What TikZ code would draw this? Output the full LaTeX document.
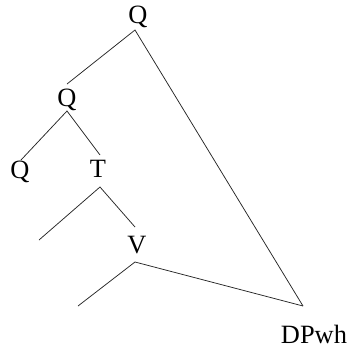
\documentclass[tikz,border=0pt]{standalone}
\usepackage{fontspec}
\setmainfont{Liberation Serif}
\begin{document}
\begin{tikzpicture}[x=1bp,y=-1bp,
  lab/.style={anchor=base,inner sep=0pt,font=\fontsize{26.5}{30}\selectfont},
  edge/.style={line width=0.75bp,black!85}]
\useasboundingbox (0,0) rectangle (349,350);
\node[lab] (q1) at (138,23) {Q};
\node[lab] (q2) at (67,106) {Q};
\node[lab] (q3) at (20,178) {Q};
\node[lab] (t) at (98,177) {T};
\node[lab] (v) at (137,253) {V};
\node[lab] (dp) at (314,343) {DPwh};
\coordinate (q1a) at (135,30);
\coordinate (q2t) at (67,84);
\coordinate (q2a) at (67,111);
\coordinate (q3t) at (21,160);
\coordinate (tt) at (100,155);
\coordinate (ta) at (100,187);
\coordinate (tl) at (39,240);
\coordinate (vt) at (135,227);
\coordinate (va) at (135,262);
\coordinate (vl) at (78,306);
\coordinate (dpt) at (303,306);
\draw[edge] (q2t) -- (q1a) -- (dpt);
\draw[edge] (q3t) -- (q2a) -- (tt);
\draw[edge] (tl) -- (ta) -- (vt);
\draw[edge] (vl) -- (va) -- (dpt);
\end{tikzpicture}
\end{document}
